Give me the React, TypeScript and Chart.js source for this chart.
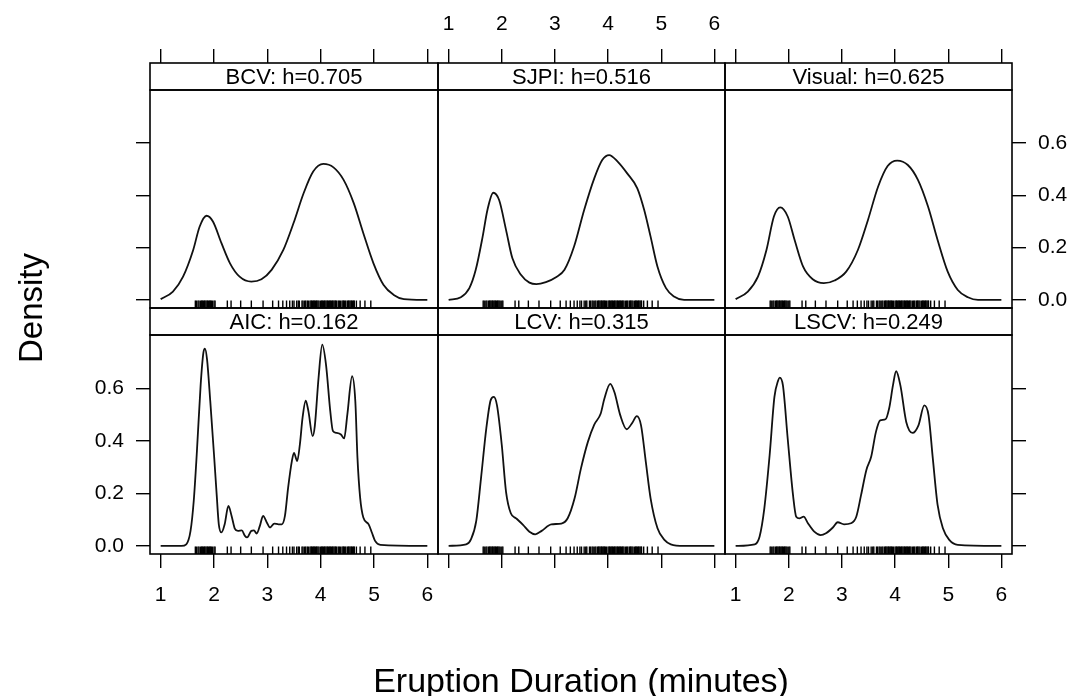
import React, { useEffect, useRef } from "react";
import { Chart, registerables } from "chart.js";

Chart.register(...registerables);

// ---------- data ----------
const panelTitles = [
  "BCV: h=0.705",
  "SJPI: h=0.516",
  "Visual: h=0.625",
  "AIC: h=0.162",
  "LCV: h=0.315",
  "LSCV: h=0.249",
];

const xTickValues = [1, 2, 3, 4, 5, 6];
const yTickValues = [0, 0.2, 0.4, 0.6];

const bcvX = [1.0, 1.23, 1.42, 1.61, 1.73, 1.86, 1.98, 2.14, 2.3, 2.48, 2.7, 2.89, 3.08, 3.3, 3.49, 3.68, 3.86, 4.05, 4.24, 4.43, 4.62, 4.8, 4.99, 5.18, 5.37, 5.56, 6.0];
const bcvY = [0.003, 0.032, 0.089, 0.191, 0.28, 0.322, 0.3, 0.217, 0.14, 0.089, 0.07, 0.079, 0.115, 0.191, 0.293, 0.408, 0.491, 0.52, 0.507, 0.459, 0.37, 0.255, 0.14, 0.057, 0.019, 0.003, 0.0];

const sjpiX = [1.0, 1.23, 1.39, 1.51, 1.64, 1.73, 1.84, 1.95, 2.08, 2.2, 2.36, 2.52, 2.65, 2.83, 3.02, 3.18, 3.36, 3.55, 3.74, 3.89, 4.02, 4.18, 4.36, 4.55, 4.68, 4.8, 4.93, 5.09, 5.24, 5.43, 6.0];
const sjpiY = [0.0, 0.01, 0.045, 0.115, 0.242, 0.344, 0.41, 0.382, 0.268, 0.159, 0.096, 0.066, 0.06, 0.068, 0.087, 0.115, 0.204, 0.344, 0.465, 0.535, 0.554, 0.529, 0.484, 0.427, 0.344, 0.242, 0.127, 0.045, 0.013, 0.0, 0.0];

const visualX = [1.0, 1.23, 1.42, 1.58, 1.72, 1.84, 1.98, 2.11, 2.27, 2.45, 2.66, 2.86, 3.08, 3.3, 3.49, 3.68, 3.86, 4.04, 4.24, 4.43, 4.62, 4.8, 4.99, 5.18, 5.37, 5.56, 6.0];
const visualY = [0.003, 0.032, 0.089, 0.191, 0.319, 0.354, 0.319, 0.229, 0.127, 0.079, 0.064, 0.074, 0.108, 0.191, 0.306, 0.433, 0.512, 0.533, 0.516, 0.459, 0.357, 0.229, 0.108, 0.038, 0.01, 0.0, 0.0];

const aicX = [1.0, 1.39, 1.48, 1.56, 1.62, 1.68, 1.75, 1.8, 1.83, 1.87, 1.93, 2.0, 2.05, 2.09, 2.14, 2.2, 2.27, 2.33, 2.39, 2.45, 2.52, 2.58, 2.62, 2.7, 2.75, 2.8, 2.86, 2.92, 2.99, 3.05, 3.13, 3.21, 3.27, 3.33, 3.39, 3.46, 3.5, 3.56, 3.61, 3.66, 3.72, 3.77, 3.85, 3.89, 3.96, 4.03, 4.1, 4.18, 4.23, 4.3, 4.38, 4.44, 4.5, 4.59, 4.65, 4.69, 4.74, 4.8, 4.9, 4.96, 5.02, 5.12, 6.0];
const aicY = [0.0, 0.0, 0.006, 0.057, 0.171, 0.361, 0.614, 0.734, 0.751, 0.709, 0.551, 0.348, 0.196, 0.082, 0.051, 0.082, 0.152, 0.114, 0.066, 0.057, 0.059, 0.038, 0.032, 0.057, 0.059, 0.047, 0.076, 0.114, 0.089, 0.07, 0.085, 0.082, 0.082, 0.114, 0.222, 0.323, 0.354, 0.323, 0.386, 0.487, 0.553, 0.513, 0.418, 0.456, 0.639, 0.766, 0.69, 0.513, 0.437, 0.43, 0.424, 0.409, 0.5, 0.646, 0.55, 0.335, 0.184, 0.108, 0.082, 0.051, 0.019, 0.004, 0.0];

const lcvX = [1.0, 1.33, 1.42, 1.52, 1.61, 1.71, 1.79, 1.85, 1.91, 2.0, 2.08, 2.17, 2.27, 2.4, 2.52, 2.63, 2.75, 2.93, 3.12, 3.24, 3.37, 3.49, 3.62, 3.74, 3.86, 3.93, 4.04, 4.12, 4.23, 4.35, 4.46, 4.54, 4.62, 4.71, 4.8, 4.93, 5.06, 5.18, 5.43, 6.0];
const lcvY = [0.0, 0.006, 0.025, 0.095, 0.259, 0.449, 0.554, 0.567, 0.535, 0.384, 0.206, 0.124, 0.105, 0.08, 0.054, 0.044, 0.057, 0.082, 0.085, 0.105, 0.181, 0.295, 0.396, 0.462, 0.503, 0.56, 0.617, 0.585, 0.497, 0.444, 0.47, 0.494, 0.459, 0.32, 0.181, 0.067, 0.023, 0.006, 0.0, 0.0];

const lscvX = [1.0, 1.36, 1.45, 1.54, 1.64, 1.73, 1.8, 1.83, 1.89, 1.98, 2.08, 2.14, 2.2, 2.28, 2.36, 2.48, 2.6, 2.7, 2.83, 2.92, 3.04, 3.17, 3.27, 3.36, 3.46, 3.55, 3.64, 3.72, 3.82, 3.89, 3.96, 4.02, 4.1, 4.21, 4.33, 4.44, 4.55, 4.63, 4.71, 4.8, 4.9, 5.02, 5.18, 6.0];
const lscvY = [0.0, 0.006, 0.035, 0.143, 0.346, 0.567, 0.63, 0.641, 0.611, 0.408, 0.193, 0.111, 0.105, 0.111, 0.086, 0.054, 0.041, 0.048, 0.07, 0.09, 0.082, 0.086, 0.111, 0.193, 0.289, 0.339, 0.434, 0.478, 0.482, 0.525, 0.611, 0.665, 0.611, 0.472, 0.43, 0.459, 0.535, 0.497, 0.333, 0.156, 0.067, 0.023, 0.004, 0.0];

const rugDurations = [
  1.65, 1.67, 1.7, 1.72, 1.75, 1.77, 1.78, 1.8, 1.82, 1.83, 1.85, 1.87, 1.88, 1.9, 1.92, 1.93, 1.95, 1.97, 2.0, 2.02,
  2.25, 2.32, 2.5, 2.7, 2.92, 3.1, 3.21, 3.29, 3.36, 3.42, 3.47, 3.5, 3.55, 3.58, 3.6, 3.65, 3.67, 3.7, 3.72, 3.75,
  3.77, 3.8, 3.82, 3.83, 3.85, 3.87, 3.88, 3.9, 3.92, 3.93, 3.95, 3.97, 4.0, 4.02, 4.03, 4.05, 4.07, 4.08, 4.1, 4.12,
  4.13, 4.15, 4.17, 4.18, 4.2, 4.22, 4.23, 4.25, 4.27, 4.28, 4.3, 4.33, 4.35, 4.37, 4.4, 4.42, 4.43, 4.45, 4.47, 4.5,
  4.52, 4.53, 4.55, 4.57, 4.58, 4.6, 4.62, 4.63, 4.67, 4.74, 4.83, 4.94,
];

const curveXs = [bcvX, sjpiX, visualX, aicX, lcvX, lscvX];
const curveYs = [bcvY, sjpiY, visualY, aicY, lcvY, lscvY];

// ---------- layout ----------
const W = 1073;
const H = 696;
const FONT = "'Liberation Sans', Arial, Helvetica, sans-serif";
const X_MIN = 0.8;
const X_MAX = 6.2;
const Y_MIN = -0.031;
const Y_MAX = 0.803;
const colL = [150, 438, 725];
const colR = [438, 725, 1012];
const stripTop = [63, 308];
const plotBottom = [308, 554];
const STRIP_H = 27;
const TICK_LEN = 14;
const TICK_FONT = 21;

type PanelSpec = {
  row: number;
  col: number;
  xPos: "top" | "bottom";
  xLabels: boolean;
  yPos: "left" | "right" | null;
  yLabels: boolean;
};

const specs: PanelSpec[] = [
  { row: 0, col: 0, xPos: "top", xLabels: false, yPos: "left", yLabels: false },
  { row: 0, col: 1, xPos: "top", xLabels: true, yPos: null, yLabels: false },
  { row: 0, col: 2, xPos: "top", xLabels: false, yPos: "right", yLabels: true },
  { row: 1, col: 0, xPos: "bottom", xLabels: true, yPos: "left", yLabels: true },
  { row: 1, col: 1, xPos: "bottom", xLabels: false, yPos: null, yLabels: false },
  { row: 1, col: 2, xPos: "bottom", xLabels: true, yPos: "right", yLabels: false },
];

const framePlugin = {
  id: "latticeFrame",
  afterDraw(chart: any) {
    const { ctx, chartArea: a } = chart;
    const tb = chart.titleBlock;
    ctx.save();
    ctx.strokeStyle = "#000";
    ctx.lineWidth = 1.6;
    ctx.strokeRect(a.left, a.top, a.right - a.left, a.bottom - a.top);
    if (tb) ctx.strokeRect(a.left, tb.top, a.right - a.left, a.top - tb.top);
    ctx.restore();
  },
};

function makePanel(canvas: HTMLCanvasElement, spec: PanelSpec, idx: number) {
  const { row, col, xPos, xLabels, yPos, yLabels } = spec;
  const top0 = stripTop[row];
  const bottom0 = plotBottom[row];
  const padding = {
    left: yPos === "left" ? 0 : colL[col],
    right: yPos === "right" ? 0 : W - colR[col],
    top: xPos === "top" ? 0 : top0,
    bottom: xPos === "bottom" ? 0 : H - bottom0,
  };
  const xAxisHeight = xPos === "top" ? top0 : H - bottom0;
  const yAxisWidth = yPos === "left" ? colL[col] : yPos === "right" ? W - colR[col] : 0;

  const data = curveXs[idx].map((x, i) => ({ x, y: curveYs[idx][i] }));
  const rug = rugDurations.map((d) => ({ x: d, y: Y_MIN }));

  return new Chart(canvas, {
    type: "line",
    data: {
      datasets: [
        {
          type: "line",
          data,
          borderColor: "#111",
          borderWidth: 1.8,
          pointRadius: 0,
          fill: false,
          cubicInterpolationMode: "monotone",
          clip: false,
        } as any,
        {
          type: "scatter",
          data: rug,
          pointStyle: "line",
          pointRotation: 90,
          pointRadius: 7.5,
          pointBorderColor: "#000",
          pointBorderWidth: 1.4,
          pointBackgroundColor: "#000",
          showLine: false,
          clip: 0,
        } as any,
      ],
    },
    options: {
      responsive: false,
      animation: false,
      devicePixelRatio: 1,
      events: [],
      layout: { padding },
      plugins: {
        legend: { display: false },
        tooltip: { enabled: false },
        title: {
          display: true,
          text: panelTitles[idx],
          position: "top",
          fullSize: false,
          weight: 2000,
          color: "#000",
          font: { family: FONT, size: 22, lineHeight: 1, weight: "normal" },
          padding: { top: 4, bottom: STRIP_H - 22 - 4 },
        },
      },
      scales: {
        x: {
          type: "linear",
          position: xPos,
          min: X_MIN,
          max: X_MAX,
          weight: 3000,
          afterBuildTicks: (s: any) => {
            s.ticks = xTickValues.map((v) => ({ value: v }));
          },
          afterFit: (s: any) => {
            s.height = xAxisHeight;
          },
          grid: {
            display: true,
            drawOnChartArea: false,
            drawTicks: true,
            tickLength: TICK_LEN,
            color: "#000",
            lineWidth: 1.4,
          },
          border: { display: false },
          ticks: {
            display: xLabels,
            color: "#000",
            font: { family: FONT, size: TICK_FONT },
            padding: xPos === "top" ? 12 : 15,
            maxRotation: 0,
            autoSkip: false,
            callback: (v: any) => String(v),
          },
        } as any,
        y: {
          type: "linear",
          display: yPos !== null,
          position: yPos || "left",
          min: Y_MIN,
          max: Y_MAX,
          afterBuildTicks: (s: any) => {
            s.ticks = yTickValues.map((v) => ({ value: v }));
          },
          afterFit: (s: any) => {
            s.width = yAxisWidth;
          },
          grid: {
            display: true,
            drawOnChartArea: false,
            drawTicks: true,
            tickLength: TICK_LEN,
            color: "#000",
            lineWidth: 1.4,
          },
          border: { display: false },
          ticks: {
            display: yLabels,
            color: "#000",
            font: { family: FONT, size: TICK_FONT },
            padding: 12,
            autoSkip: false,
            callback: (v: any) => Number(v).toFixed(1),
          },
        } as any,
      },
    },
    plugins: [framePlugin],
  } as any);
}

export default function App() {
  const refs = useRef<(HTMLCanvasElement | null)[]>([]);

  useEffect(() => {
    const charts = specs.map((s, i) => makePanel(refs.current[i] as HTMLCanvasElement, s, i));
    return () => {
      charts.forEach((c) => c.destroy());
    };
  }, []);

  return (
    <div
      style={{
        position: "absolute",
        left: 0,
        top: 0,
        width: W,
        height: H,
        background: "#fff",
        overflow: "hidden",
        fontFamily: FONT,
        color: "#000",
      }}
    >
      {specs.map((_, i) => (
        <canvas
          key={i}
          ref={(el) => {
            refs.current[i] = el;
          }}
          width={W}
          height={H}
          style={{ position: "absolute", left: 0, top: 0, width: W, height: H }}
        />
      ))}
      <div
        style={{
          position: "absolute",
          left: 31 - 100,
          top: 307.5 - 17,
          width: 200,
          height: 34,
          lineHeight: "34px",
          fontSize: 33,
          textAlign: "center",
          transform: "rotate(-90deg)",
          whiteSpace: "nowrap",
        }}
      >
        Density
      </div>
      <div
        style={{
          position: "absolute",
          left: 581 - 300,
          top: 663,
          width: 600,
          height: 34,
          lineHeight: "34px",
          fontSize: 34,
          textAlign: "center",
          whiteSpace: "nowrap",
        }}
      >
        Eruption Duration (minutes)
      </div>
    </div>
  );
}
